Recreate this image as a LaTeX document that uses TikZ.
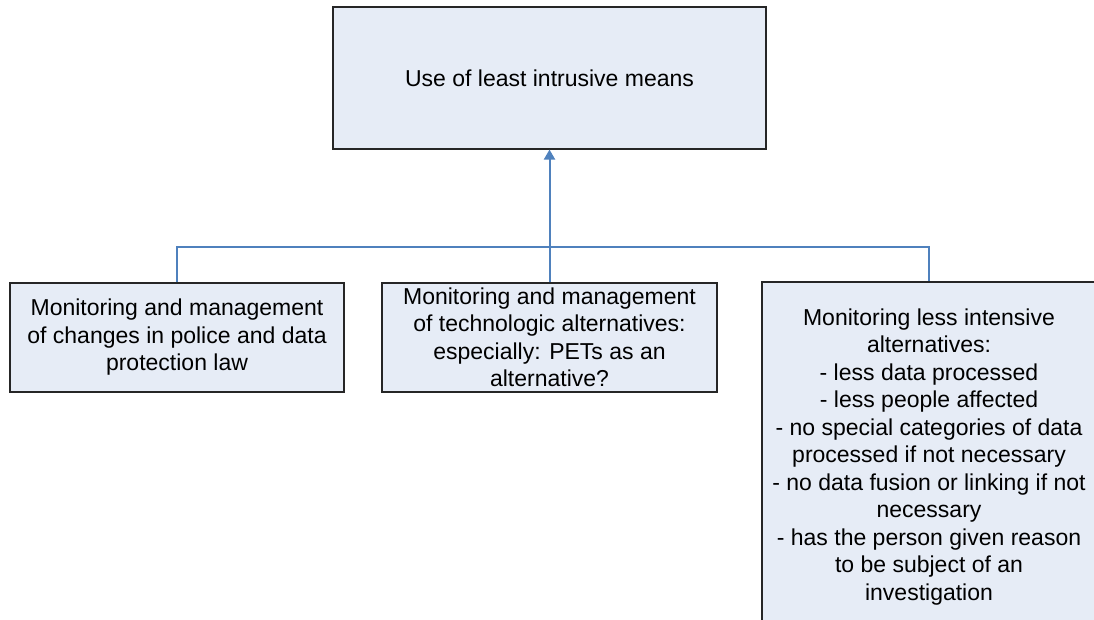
\documentclass[tikz,border=0pt]{standalone}
\usepackage{fontspec}
\setmainfont{Liberation Sans}
\usetikzlibrary{arrows.meta}
\definecolor{boxfill}{HTML}{E6ECF6}
\definecolor{linkblue}{HTML}{4F81BD}
\begin{document}
\begin{tikzpicture}[x=1pt,y=-1pt,
  box/.style={draw=black!85, line width=1.1pt, fill=boxfill, align=center,
    inner sep=0pt, font=\fontsize{23}{27.5}\selectfont},
  link/.style={draw=linkblue, line width=2pt},
  tip/.style={-{Triangle[width=11pt,length=10pt]}}]
\useasboundingbox (0,0) rectangle (1094,619);
\clip (0,0) rectangle (1094,619);

\node[box, minimum width=433pt, minimum height=142pt] (top) at (549.5,78)
  {Use of least intrusive means};

\node[box, minimum width=334pt, minimum height=109pt] (law) at (177,337.5)
  {Monitoring and management\\of changes in police and data\\protection law};
\node[box, minimum width=335pt, minimum height=109pt] (tech) at (549.5,337.5)
  {Monitoring and management\\of technologic alternatives:\\especially: PETs as an\\alternative?};
\node[box, minimum width=334pt, minimum height=350pt] (less) at (929,457)
  {Monitoring less intensive\\alternatives:\\- less data processed\\- less people affected\\- no special categories of data\\processed if not necessary\\- no data fusion or linking if not\\necessary\\- has the person given reason\\to be subject of an\\investigation};

\coordinate (hub) at (549.5,247);
\draw[link] (law.north) |- (hub) -| (less.north);
\draw[link, tip] (tech.north) -- (top.south);
\end{tikzpicture}
\end{document}
